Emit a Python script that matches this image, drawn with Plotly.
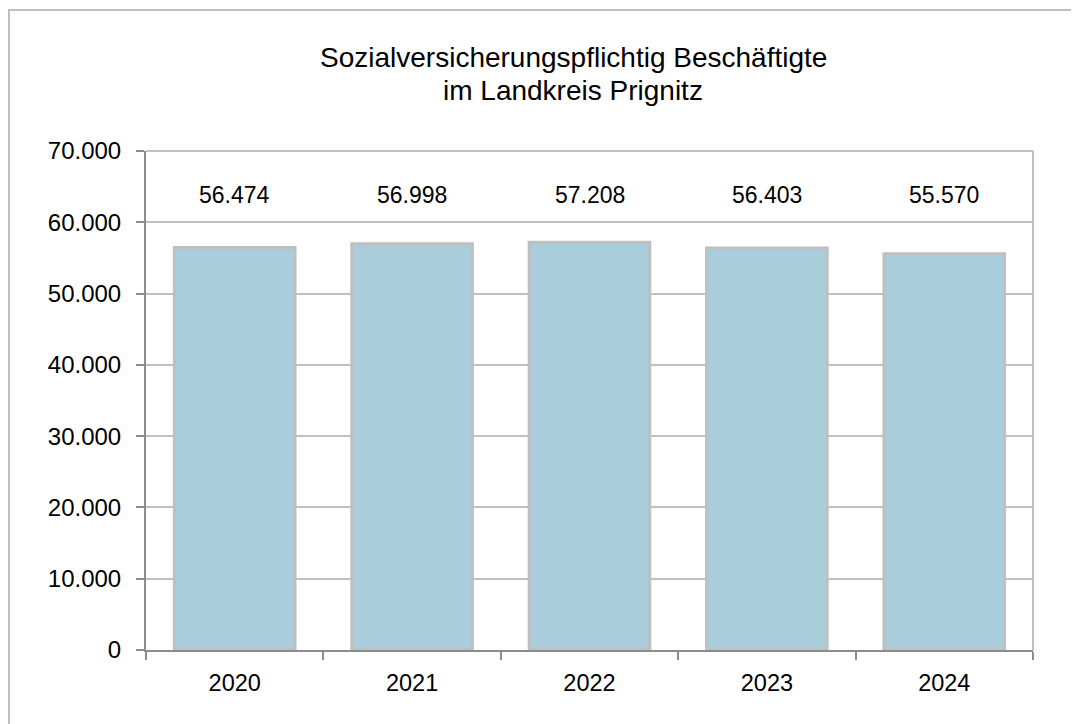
import plotly.graph_objects as go

years = ["2020", "2021", "2022", "2023", "2024"]
values = [56474, 56998, 57208, 56403, 55570]
label_texts = ["56.474", "56.998", "57.208", "56.403", "55.570"]
label_height = 63800
title_lines = ["Sozialversicherungspflichtig Beschäftigte", "im Landkreis Prignitz"]

OFF = 8  # page body margin
W, H = 1079 - OFF, 724 - OFF
# plot area in screen pixels: x 146..1033, y 151..650
SX0, SX1, SY0, SY1 = 146, 1033, 151, 650
L, R = SX0 - OFF, W - (SX1 - OFF)
T, B = SY0 - OFF, H - (SY1 - OFF)
pw, ph = SX1 - SX0, SY1 - SY0

def px(x):
    return (x - SX0) / pw

def py(y):
    return (SY1 - y) / ph

FONT = "Liberation Sans, Arial"

fig = go.Figure()
fig.add_trace(go.Bar(
    x=years, y=values, width=0.68,
    marker=dict(color="#aacddc", line=dict(color="#bfbfbf", width=3)),
    hoverinfo="x+y",
))

for i, t in enumerate(label_texts):
    fig.add_annotation(x=i, y=label_height, text=t, showarrow=False,
                       font=dict(family=FONT, size=23, color="#000000"),
                       xanchor="center", yanchor="middle")

for line, yc in zip(title_lines, [58, 90]):
    fig.add_annotation(xref="paper", yref="paper", x=px(573), y=py(yc),
                       text=line, showarrow=False, xanchor="center", yanchor="middle",
                       font=dict(family=FONT, size=28, color="#000000"))

# outer chart border
fig.add_shape(type="rect", xref="paper", yref="paper",
              x0=px(OFF + 1), x1=px(1100), y0=py(750), y1=py(10),
              line=dict(color="#c0c0c0", width=2), fillcolor="rgba(0,0,0,0)", layer="below")
# plot area border (top and right)
fig.add_shape(type="line", xref="paper", yref="paper", x0=0, x1=1, y0=1, y1=1,
              line=dict(color="#c0c0c0", width=2))
fig.add_shape(type="line", xref="paper", yref="paper", x0=1, x1=1, y0=0, y1=1,
              line=dict(color="#c0c0c0", width=2))

fig.update_layout(
    width=W, height=H,
    margin=dict(l=L, r=R, t=T, b=B),
    paper_bgcolor="white", plot_bgcolor="white",
    separators=",.",
    showlegend=False,
    font=dict(family=FONT, size=23, color="#000000"),
)
fig.update_xaxes(
    type="category", automargin=False, range=[-0.5, len(years) - 0.5],
    showgrid=False, showline=True, linecolor="#8c8c8c", linewidth=2,
    ticks="outside", tickson="boundaries", ticklen=8, tickcolor="#8c8c8c", tickwidth=2,
    tickfont=dict(size=23.5, family=FONT), tickangle=0,
    ticklabelstandoff=11,
)
fig.update_yaxes(
    range=[0, 70000], dtick=10000, tickformat=",d", automargin=False,
    showgrid=True, gridcolor="#c0c0c0", gridwidth=2,
    showline=True, linecolor="#8c8c8c", linewidth=2,
    ticks="outside", ticklen=8, tickcolor="#8c8c8c", tickwidth=2,
    tickfont=dict(size=24, family=FONT),
    ticklabelstandoff=10, zeroline=False,
)

fig.write_html("out.html")
